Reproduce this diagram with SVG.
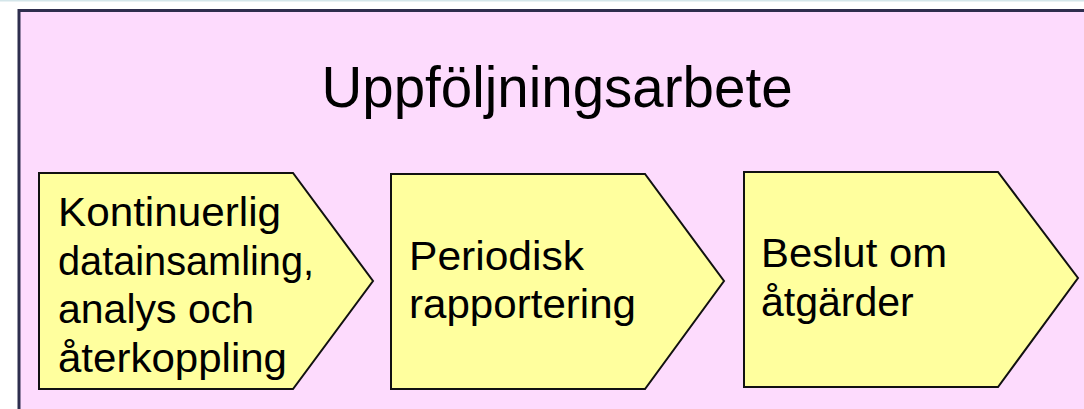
<svg xmlns="http://www.w3.org/2000/svg" width="1084" height="409" viewBox="0 0 1084 409">
<style>
.step{fill:#FFFF9E;stroke:#111;stroke-width:2}
.t{font-family:"Liberation Sans",Arial,sans-serif;fill:#000;font-size:41px}
.title{font-family:"Liberation Sans",Arial,sans-serif;fill:#000;font-size:56.5px}
</style>
<rect x="0" y="0" width="1084" height="409" fill="#ffffff"/>
<line x1="0" y1="0.5" x2="1084" y2="0.5" stroke="#d4e6ea" stroke-width="2"/>
<g id="frame">
<rect x="19" y="10.5" width="1100" height="430" fill="#FDDBFD" stroke="#2E2E4E" stroke-width="3"/>
<text class="title" x="557" y="107" text-anchor="middle">Uppföljningsarbete</text>
</g>
<g id="step1">
<polygon class="step" points="39,173 293,173 373,281 293,389 39,389"/>
<text class="t" x="58" y="226" textLength="223" lengthAdjust="spacingAndGlyphs">Kontinuerlig</text>
<text class="t" x="58" y="274.5" textLength="256" lengthAdjust="spacingAndGlyphs">datainsamling,</text>
<text class="t" x="58" y="323">analys och</text>
<text class="t" x="58" y="371.5" textLength="229" lengthAdjust="spacingAndGlyphs">återkoppling</text>
</g>
<g id="step2">
<polygon class="step" points="391,174 645,174 724,281 645,389 391,389"/>
<text class="t" x="409" y="270" textLength="175" lengthAdjust="spacingAndGlyphs">Periodisk</text>
<text class="t" x="409" y="318" textLength="227" lengthAdjust="spacingAndGlyphs">rapportering</text>
</g>
<g id="step3">
<polygon class="step" points="744,172 998,172 1078,278 998,387 744,387"/>
<text class="t" x="761" y="267" textLength="186" lengthAdjust="spacingAndGlyphs">Beslut om</text>
<text class="t" x="761" y="316">åtgärder</text>
</g>
<g id="connectors"></g>
</svg>
